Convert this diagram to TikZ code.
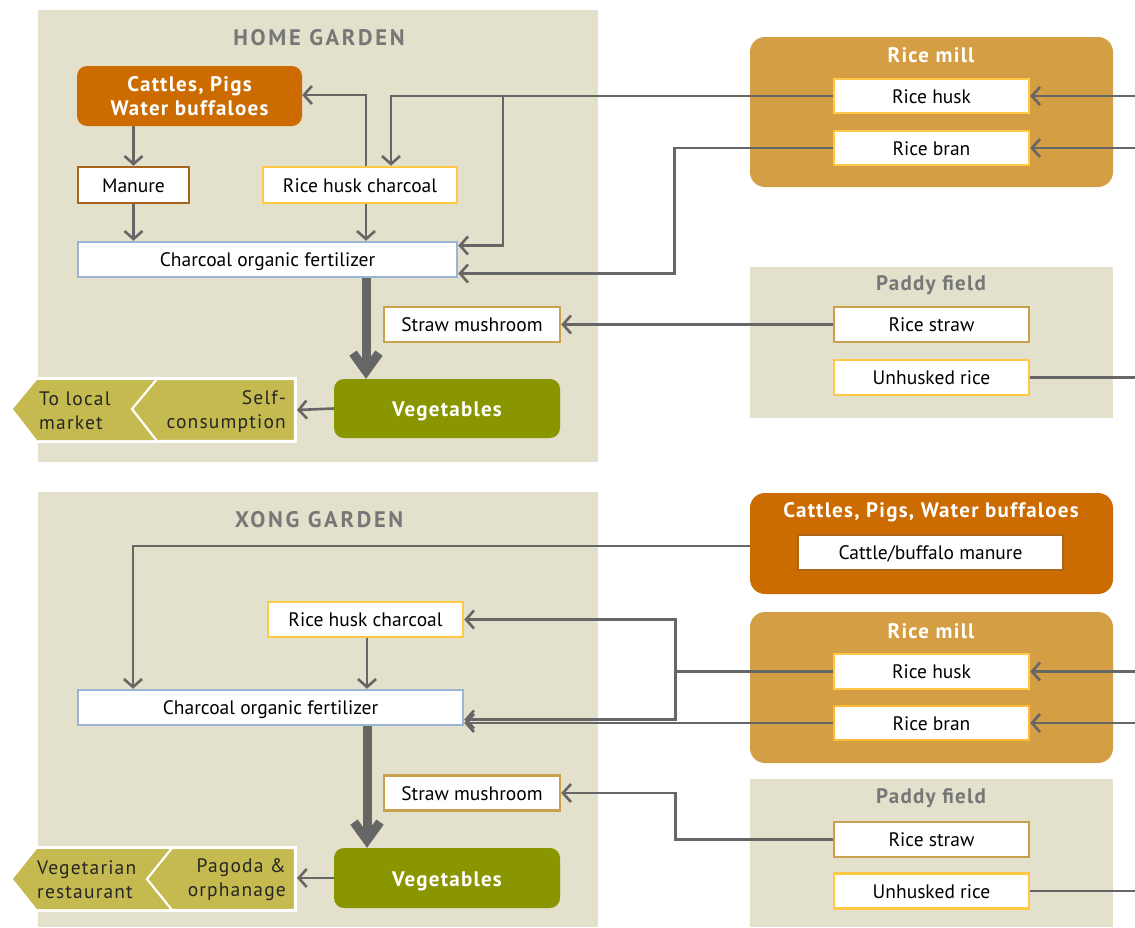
\documentclass[tikz,border=0pt]{standalone}
\usepackage{fontspec}
\setmainfont{PT Sans}
\usetikzlibrary{arrows.meta}
\definecolor{beige}{HTML}{E3E0CB}
\definecolor{orng}{HTML}{CC6B00}
\definecolor{gold}{HTML}{D49E45}
\definecolor{olive}{HTML}{8A9600}
\definecolor{chev}{HTML}{C5BA50}
\definecolor{lgray}{HTML}{666666}
\definecolor{tgray}{HTML}{777777}
\definecolor{ylw}{HTML}{FFC845}
\definecolor{tan}{HTML}{C9A04E}
\definecolor{blu}{HTML}{9BB5D6}
\definecolor{brn}{HTML}{A5651F}
\tikzset{
  x=1pt, y=-1pt,
  box/.style={draw, fill=white, line width=2.5pt, inner sep=0pt, text height=17pt, text depth=3pt, font=\fontsize{19.5}{22}\selectfont, text=black},
  ybox/.style={box, draw=ylw},
  tbox/.style={box, draw=tan},
  bbox/.style={box, draw=blu},
  mbox/.style={box, draw=brn},
  bold/.style={font=\fontsize{21}{24}\selectfont\bfseries\addfontfeature{LetterSpace=6}},
  vegbox/.style={fill=olive, rounded corners=10pt, minimum width=226pt, inner sep=0pt, text height=18pt, text depth=2pt, text=white, font=\fontsize{21}{24}\selectfont\bfseries\addfontfeature{LetterSpace=6}},
  gtitle/.style={font=\fontsize{22.5}{26}\selectfont\bfseries\addfontfeature{LetterSpace=12}, text=tgray},
  conn/.style={draw=lgray, line width=2.6pt, -{Straight Barb[length=8pt,width=18pt]}},
  plain/.style={draw=lgray, line width=2.6pt},
  bigarrow/.style={draw=lgray, line width=9pt, -{Straight Barb[length=18pt,width=26pt]}},
  chtxt/.style={font=\fontsize{19.5}{24}\selectfont\addfontfeature{LetterSpace=6}, text=black!85, inner sep=0pt},
}
\begin{document}
\begin{tikzpicture}
\useasboundingbox (0,0) rectangle (1135,927);
% ---------- backgrounds ----------
\fill[beige] (38,10) rectangle (598,462);
\fill[beige] (38,492) rectangle (598,927);
\fill[gold, rounded corners=15pt] (750,37) rectangle (1113,187);
\fill[beige] (750,267) rectangle (1113,418);
\fill[orng, rounded corners=15pt] (750,493) rectangle (1113,594);
\fill[gold, rounded corners=15pt] (750,612) rectangle (1113,763);
\fill[beige] (750,779) rectangle (1113,927);
% ---------- titles ----------
\node[gtitle] (hg) at (319,38) {HOME GARDEN};
\node[gtitle] (xg) at (319,520) {XONG GARDEN};
\node[bold, text=white] (rm1) at (931,55) {Rice mill};
\node[bold, text=tgray] (pf1) at (931,285) {Paddy field};
\node[bold, text=white] (cp2) at (931,512) {Cattles, Pigs, Water buffaloes};
\node[bold, text=white] (rm2) at (931,631) {Rice mill};
\node[bold, text=tgray] (pf2) at (931,798) {Paddy field};
% ---------- top section nodes ----------
\node[fill=orng, rounded corners=10pt, minimum width=225pt, minimum height=60pt, inner sep=0pt, text=white, align=center, font=\fontsize{21}{24}\selectfont\bfseries\addfontfeature{LetterSpace=6}] (cat1) at (189.5,96) {Cattles, Pigs\\Water buffaloes};
\node[mbox, minimum width=111pt, minimum height=36pt] (man1) at (133.5,185) {Manure};
\node[ybox, minimum width=194pt, minimum height=36pt] (rhc1) at (360,185) {Rice husk charcoal};
\node[bbox, minimum width=379pt, minimum height=35pt] (fert1) at (267.5,259.5) {Charcoal organic fertilizer};
\node[tbox, minimum width=176pt, minimum height=35pt] (straw1) at (472,324.5) {Straw mushroom};
\node[vegbox, minimum height=59pt] (veg1) at (447,408.5) {Vegetables};
\node[ybox, minimum width=195pt, minimum height=34pt] (husk1) at (931.5,96) {Rice husk};
\node[ybox, minimum width=195pt, minimum height=34pt] (bran1) at (931.5,148) {Rice bran};
\node[tbox, minimum width=195pt, minimum height=35pt] (rstraw1) at (931.5,324.5) {Rice straw};
\node[ybox, minimum width=195pt, minimum height=35pt] (unh1) at (931.5,377.5) {Unhusked rice};
% chevrons top
\fill[white] (38,377) rectangle (297,443);
\fill[chev] (13,409) -- (37,380) -- (165,380) -- (165,440) -- (37,440) -- cycle;
\filldraw[fill=chev, draw=white, line width=2.2pt] (132,409) -- (157,379) -- (295,379) -- (295,441) -- (157,441) -- cycle;
\node[chtxt, align=left, anchor=west] (lm1) at (39,411) {To local\\market};
\node[chtxt, align=right, anchor=east] (sc1) at (286,411) {Self-\\consumption};
\coordinate (sc1e) at (297,410);
% ---------- top section connectors ----------
\coordinate (re1) at (1135,96);
\coordinate (re2) at (1135,148);
\coordinate (re3) at (1135,377.5);
\coordinate (j1) at (503,96);
\draw[conn] (man1.north |- cat1.south) -- (man1.north);
\draw[conn] (man1.south) -- (man1.south |- fert1.north);
\draw[conn] ([xshift=6pt]rhc1.south) -- ([xshift=6pt]rhc1.south |- fert1.north);
\draw[conn] ([xshift=6pt]rhc1.north) |- ([yshift=1pt]cat1.east);
\draw[conn] (husk1.west) -| ([xshift=31pt]rhc1.north);
\draw[conn] (j1) |- ([yshift=14pt]fert1.east);
\draw[conn] (bran1.west) -- ++(-158,0) |- ([yshift=-14pt]fert1.east);
\draw[conn] (rstraw1.west) -- (straw1.east);
\draw[conn] (re1) -- (husk1.east);
\draw[conn] (re2) -- (bran1.east);
\draw[plain] (unh1.east) -- (re3);
\coordinate (t1) at ([xshift=-81pt]veg1.north);
\draw[bigarrow] (fert1.south -| t1) -- (t1);
\draw[conn] (veg1.west) -- (sc1e);
% ---------- bottom section nodes ----------
\node[box, draw=brn!85!orng, minimum width=265pt, minimum height=35pt] (cman) at (930.5,552.5) {Cattle/buffalo manure};
\node[ybox, minimum width=195pt, minimum height=35pt] (rhc2) at (365.5,619.5) {Rice husk charcoal};
\node[bbox, minimum width=385pt, minimum height=35pt] (fert2) at (270.5,707.5) {Charcoal organic fertilizer};
\node[tbox, minimum width=176pt, minimum height=35pt] (straw2) at (472,793) {Straw mushroom};
\node[vegbox, minimum height=60pt] (veg2) at (447,878) {Vegetables};
\node[ybox, minimum width=195pt, minimum height=35pt] (husk2) at (931.5,671.5) {Rice husk};
\node[ybox, draw=ylw!80!orange, minimum width=195pt, minimum height=34pt] (bran2) at (931.5,723) {Rice bran};
\node[tbox, minimum width=195pt, minimum height=35pt] (rstraw2) at (931.5,839.5) {Rice straw};
\node[ybox, minimum width=195pt, minimum height=35pt] (unh2) at (931.5,891) {Unhusked rice};
% chevrons bottom
\fill[white] (38,846) rectangle (297,912);
\fill[chev] (13,879) -- (37,849) -- (185,849) -- (185,909) -- (37,909) -- cycle;
\filldraw[fill=chev, draw=white, line width=2.2pt] (147,879) -- (172,848) -- (295,848) -- (295,910) -- (172,910) -- cycle;
\node[chtxt, align=left, anchor=west] (vr2) at (37,880) {Vegetarian\\restaurant};
\node[chtxt, align=right, anchor=east] (po2) at (286,880) {Pagoda \&\\orphanage};
\coordinate (po2e) at (297,878);
% ---------- bottom section connectors ----------
\coordinate (re4) at (1135,671.5);
\coordinate (re5) at (1135,723);
\coordinate (re6) at (1135,891);
\coordinate (cmw) at (750,546);
\draw[conn] (cmw) -| ([xshift=-137.5pt]fert2.north);
\draw[conn] ([xshift=1.5pt]rhc2.south) -- ([xshift=1.5pt]rhc2.south |- fert2.north);
\draw[plain] (husk2.west) -- ++(-157,0) coordinate (j2);
\draw[conn] (j2) |- (rhc2.east);
\draw[conn] (j2) |- ([yshift=-12pt]fert2.east);
\draw[conn] (bran2.west) -- (bran2.west -| fert2.east);
\draw[conn] (rstraw2.west) -- ++(-157,0) |- (straw2.east);
\draw[conn] (re4) -- (husk2.east);
\draw[conn] (re5) -- (bran2.east);
\draw[plain] (unh2.east) -- (re6);
\coordinate (t2) at ([xshift=-80pt]veg2.north);
\draw[bigarrow] (fert2.south -| t2) -- (t2);
\draw[conn] (veg2.west) -- (po2e);
\end{tikzpicture}
\end{document}
